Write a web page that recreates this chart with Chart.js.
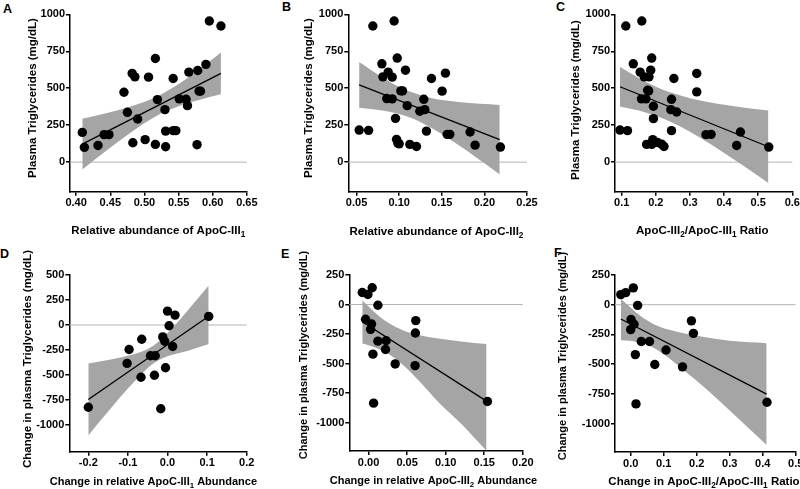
<!DOCTYPE html>
<html>
<head>
<meta charset="utf-8">
<script src="https://cdn.jsdelivr.net/npm/chart.js@4.4.0/dist/chart.umd.min.js"></script>
<style>
html, body { margin: 0; padding: 0; background: #fff; width: 800px; height: 489px; overflow: hidden; position: relative; }
canvas { position: absolute; left: 0; top: 0; }
.lbl { position: absolute; font: bold 12.5px/12px "Liberation Sans", Arial, sans-serif; color: #000; }
</style>
</head>
<body>
<div class="lbl" style="left:3px;top:2.5px">A</div>
<div class="lbl" style="left:282px;top:1px">B</div>
<div class="lbl" style="left:556px;top:1px">C</div>
<div class="lbl" style="left:0px;top:247.5px">D</div>
<div class="lbl" style="left:281px;top:247.5px">E</div>
<div class="lbl" style="left:554px;top:246.5px">F</div>
<canvas id="cA" width="900" height="489"></canvas>
<canvas id="cB" width="900" height="489"></canvas>
<canvas id="cC" width="900" height="489"></canvas>
<canvas id="cD" width="900" height="489"></canvas>
<canvas id="cE" width="900" height="489"></canvas>
<canvas id="cF" width="900" height="489"></canvas>
<script>
// ---- Panel A: TG vs ApoC-III1 ----
const aX = [0.409, 0.412, 0.432, 0.441, 0.448, 0.470, 0.475, 0.482, 0.486, 0.483, 0.490, 0.501, 0.506, 0.516, 0.516, 0.519, 0.530, 0.531, 0.531, 0.542, 0.542, 0.546, 0.551, 0.561, 0.563, 0.565, 0.578, 0.580, 0.582, 0.577, 0.590, 0.595, 0.612];
const aY = [201, 100, 113, 186, 186, 473, 337, 600, 577, 131, 292, 152, 575, 701, 120, 423, 355, 210, 104, 566, 213, 213, 428, 425, 382, 609, 620, 480, 480, 118, 661, 955, 921];
const aFitX = [0.409, 0.612];
const aFitY = [122, 600];
const aBandX = [0.409, 0.445, 0.475, 0.52, 0.555, 0.585, 0.612];
const aBandUp = [293, 333, 370, 448, 544, 645, 741];
const aBandLo = [-49, 81, 184, 318, 386, 427, 459];
const aTicksX = [0.40, 0.45, 0.50, 0.55, 0.60, 0.65];
const topTicksY = [0, 250, 500, 750, 1000];

// ---- Panel B: TG vs ApoC-III2 ----
const bX = [0.0531, 0.0641, 0.0691, 0.0797, 0.0809, 0.0871, 0.0918, 0.0941, 0.0855, 0.0918, 0.0957, 0.0977, 0.0969, 0.0984, 0.1000, 0.1020, 0.1039, 0.1074, 0.1094, 0.1125, 0.1203, 0.1242, 0.1289, 0.1301, 0.1320, 0.1379, 0.1504, 0.1543, 0.1563, 0.1594, 0.1832, 0.1891, 0.2188];
const bY = [217, 215, 921, 665, 577, 609, 575, 955, 430, 428, 296, 704, 154, 129, 124, 482, 482, 622, 382, 120, 106, 344, 425, 355, 210, 566, 480, 602, 188, 188, 204, 115, 102];
const bFitX = [0.053, 0.218];
const bFitY = [523, 152];
const bBandX = [0.053, 0.08, 0.1, 0.115, 0.14, 0.17, 0.195, 0.218];
const bBandUp = [678, 575, 509, 472, 430, 406, 395, 387];
const bBandLo = [368, 349, 325, 296, 224, 114, 13, -83];
const bTicksX = [0.05, 0.10, 0.15, 0.20, 0.25];

// ---- Panel C: TG vs ratio ----
const cX = [0.095, 0.117, 0.112, 0.134, 0.154, 0.159, 0.158, 0.166, 0.171, 0.176, 0.180, 0.173, 0.179, 0.185, 0.188, 0.193, 0.191, 0.193, 0.188, 0.205, 0.217, 0.224, 0.246, 0.244, 0.246, 0.253, 0.261, 0.320, 0.320, 0.347, 0.362, 0.437, 0.448, 0.531];
const cY = [217, 213, 921, 665, 609, 955, 428, 577, 428, 486, 577, 120, 482, 622, 704, 378, 152, 294, 120, 133, 122, 106, 425, 355, 213, 566, 339, 600, 475, 186, 188, 113, 204, 102];
const cFitX = [0.095, 0.53];
const cFitY = [510, 104];
const cBandX = [0.095, 0.15, 0.2, 0.235, 0.3, 0.38, 0.45, 0.53];
const cBandUp = [643, 569, 510, 477, 432, 395, 372, 349];
const cBandLo = [377, 349, 314, 281, 206, 93, -14, -141];
const cTicksX = [0.1, 0.2, 0.3, 0.4, 0.5, 0.6];

// ---- Panel D: change TG vs change ApoC-III1 ----
const dX = [-0.200, -0.097, -0.102, -0.065, -0.067, -0.043, -0.031, -0.033, -0.017, -0.012, -0.007, -0.005, 0.000, 0.004, 0.013, 0.019, 0.104];
const dY = [-822, -245, -384, -142, -523, -308, -308, -503, -838, -119, -162, -427, 139, -7, -215, 99, 86];
const dFitX = [-0.2, 0.104];
const dFitY = [-745, 88];
const dBandX = [-0.2, -0.15, -0.1, -0.05, -0.03, 0, 0.05, 0.104];
const dBandUp = [-386, -350, -307, -239, -189, -81, 140, 395];
const dBandLo = [-1104, -866, -635, -429, -369, -313, -260, -190];
const dTicksX = [-0.2, -0.1, 0.0, 0.1, 0.2];
const dTicksY = [-1000, -750, -500, -250, 0, 250, 500];

// ---- Panel E: change TG vs change ApoC-III2 ----
const eX = [-0.0082, -0.0009, 0.0047, 0.0121, -0.0039, 0.0039, 0.0026, 0.0056, 0.0065, 0.0121, 0.0228, 0.0220, 0.0345, 0.0612, 0.0607, 0.0603, 0.1542];
const eY = [102, 85, 142, -6, -125, -165, -210, -420, -835, -310, -307, -381, -503, -136, -241, -517, -821];
const eFitX = [-0.0082, 0.153];
const eFitY = [-146, -818];
const eBandX = [-0.0082, 0, 0.01, 0.0265, 0.045, 0.065, 0.09, 0.12, 0.153];
const eBandUp = [37, -16, -77, -159, -219, -258, -287, -312, -335];
const eBandLo = [-329, -344, -367, -421, -515, -644, -823, -1010, -1240];
const eTicksX = [0.00, 0.05, 0.10, 0.15, 0.20];
const efTicksY = [-1000, -750, -500, -250, 0, 250];

// ---- Panel F: change TG vs change ratio ----
const fX = [-0.030, -0.015, 0.008, 0.021, 0.001, 0.010, 0.000, 0.014, 0.016, 0.032, 0.057, 0.073, 0.107, 0.157, 0.184, 0.190, 0.413];
const fY = [85, 102, 142, -6, -125, -165, -210, -420, -835, -310, -310, -503, -381, -523, -136, -241, -821];
const fFitX = [-0.030, 0.412];
const fFitY = [-120, -753];
const fBandX = [-0.030, -0.002, 0.028, 0.073, 0.19, 0.30, 0.412];
const fBandUp = [51, -20, -91, -168, -256, -304, -324];
const fBandLo = [-300, -304, -319, -368, -618, -890, -1182];
const fTicksX = [0.0, 0.1, 0.2, 0.3, 0.4, 0.5];

const FONT = '"Liberation Sans", Arial, sans-serif';
const PAGE_W = 900, PAGE_H = 489;
const Y_BOX = 40, X_BOX = 30;

function toPts(xs, ys) {
    return xs.map((x, i) => ({ x: x, y: ys[i] }));
}

// thin grey line at y = 0
const zeroLine = {
    id: 'zeroLine',
    beforeDatasetsDraw(chart) {
        const { ctx, chartArea, scales } = chart;
        const py = scales.y.getPixelForValue(0);
        ctx.save();
        ctx.strokeStyle = '#b4b4b4';
        ctx.lineWidth = 1;
        ctx.beginPath();
        ctx.moveTo(chartArea.left, py);
        ctx.lineTo(chartArea.right, py);
        ctx.stroke();
        ctx.restore();
    }
};

// axis titles with real subscripts ("_1" -> small lowered 1), no width squeezing
function drawRich(ctx, text, size, cx, cy, rotate) {
    const parts = text.split(/_(\d)/);
    const big = 'bold ' + size + 'px ' + FONT;
    const small = 'bold ' + (size * 0.72) + 'px ' + FONT;
    ctx.save();
    ctx.translate(cx, cy);
    if (rotate) ctx.rotate(-Math.PI / 2);
    let total = 0;
    parts.forEach((t, i) => { ctx.font = i % 2 ? small : big; total += ctx.measureText(t).width; });
    let x = -total / 2;
    const base = size * 0.36;
    ctx.fillStyle = '#000';
    ctx.textAlign = 'left';
    ctx.textBaseline = 'alphabetic';
    parts.forEach((t, i) => {
        ctx.font = i % 2 ? small : big;
        ctx.fillText(t, x, i % 2 ? base + size * 0.26 : base);
        x += ctx.measureText(t).width;
    });
    ctx.restore();
}

const axisTitles = {
    id: 'axisTitles',
    afterDraw(chart, args, opts) {
        drawRich(chart.ctx, opts.xText, opts.xSize, opts.xCx, opts.xCy, false);
        drawRich(chart.ctx, opts.yText, opts.ySize, opts.yCx, opts.yCy, true);
    }
};

function axis(min, max, ticks, dec, fitFn) {
    return {
        type: 'linear',
        min: min,
        max: max,
        afterBuildTicks: s => { s.ticks = ticks.map(v => ({ value: v })); },
        afterFit: fitFn,
        ticks: {
            callback: v => dec === null ? String(v) : v.toFixed(dec),
            font: { family: FONT, size: 11, weight: 'bold' },
            color: '#000',
            padding: 1,
            maxRotation: 0,
            autoSkip: false
        },
        grid: { display: true, drawOnChartArea: false, drawTicks: true, tickLength: 4, color: '#000', lineWidth: 1.5 },
        border: { display: true, color: '#000', width: 1.5 },
        title: { display: false }
    };
}

function panel(id, p) {
    new Chart(document.getElementById(id), {
        type: 'scatter',
        data: {
            datasets: [
                { data: toPts(p.x, p.y), backgroundColor: '#000', borderColor: '#000', borderWidth: 0, pointRadius: 4.7, pointHoverRadius: 4.7 },
                { type: 'line', data: toPts(p.fitX, p.fitY), borderColor: '#000', borderWidth: 1.3, pointRadius: 0, fill: false },
                { type: 'line', data: toPts(p.bandX, p.bandUp), borderWidth: 0, borderColor: 'rgba(0,0,0,0)', pointRadius: 0, fill: '+1', backgroundColor: '#a5a5a5', cubicInterpolationMode: 'monotone' },
                { type: 'line', data: toPts(p.bandX, p.bandLo), borderWidth: 0, borderColor: 'rgba(0,0,0,0)', pointRadius: 0, fill: false, cubicInterpolationMode: 'monotone' }
            ]
        },
        options: {
            responsive: false,
            animation: false,
            devicePixelRatio: 1,
            events: [],
            layout: { padding: { left: p.left - Y_BOX, right: PAGE_W - p.right, top: p.top, bottom: PAGE_H - p.bottom - X_BOX } },
            plugins: {
                legend: { display: false },
                tooltip: { enabled: false },
                axisTitles: {
                    xText: p.xTitle, xSize: p.xSize, xCx: p.xTitleX, xCy: p.xTitleY,
                    yText: p.yTitle, ySize: p.ySize, yCx: p.yTitleX, yCy: p.yTitleY
                }
            },
            scales: {
                x: axis(p.xMin, p.xMax, p.ticksX, p.xDec, s => { s.height = X_BOX; }),
                y: axis(p.yMin, p.yMax, p.ticksY, null, s => { s.width = Y_BOX; })
            }
        },
        plugins: [zeroLine, axisTitles]
    });
}

const topTitle = 'Plasma Triglycerides (mg/dL)';
const botTitle = 'Change in plasma Triglycerides (mg/dL)';

panel('cA', { x: aX, y: aY, fitX: aFitX, fitY: aFitY, bandX: aBandX, bandUp: aBandUp, bandLo: aBandLo,
    ticksX: aTicksX, ticksY: topTicksY, xDec: 2, xMin: 0.391, xMax: 0.65, yMin: -200, yMax: 1000,
    left: 70, right: 246.9, top: 14.3, bottom: 191.7,
    yTitleX: 31.7, yTitleY: 98, xTitleX: 158.3, xTitleY: 230, xSize: 11.5, ySize: 11.5,
    xTitle: 'Relative abundance of ApoC-III_1', yTitle: topTitle });

panel('cB', { x: bX, y: bY, fitX: bFitX, fitY: bFitY, bandX: bBandX, bandUp: bBandUp, bandLo: bBandLo,
    ticksX: bTicksX, ticksY: topTicksY, xDec: 2, xMin: 0.0403, xMax: 0.25, yMin: -200, yMax: 1000,
    left: 348.3, right: 527, top: 14.3, bottom: 191.7,
    yTitleX: 307.7, yTitleY: 98, xTitleX: 436.5, xTitleY: 231, xSize: 11.5, ySize: 11.5,
    xTitle: 'Relative abundance of ApoC-III_2', yTitle: topTitle });

panel('cC', { x: cX, y: cY, fitX: cFitX, fitY: cFitY, bandX: cBandX, bandUp: cBandUp, bandLo: cBandLo,
    ticksX: cTicksX, ticksY: topTicksY, xDec: 1, xMin: 0.0804, xMax: 0.6, yMin: -200, yMax: 1000,
    left: 615, right: 792.3, top: 14.3, bottom: 191.7,
    yTitleX: 575.3, yTitleY: 100, xTitleX: 702.3, xTitleY: 230, xSize: 11.5, ySize: 11.5,
    xTitle: 'ApoC-III_2/ApoC-III_1 Ratio', yTitle: topTitle });

panel('cD', { x: dX, y: dY, fitX: dFitX, fitY: dFitY, bandX: dBandX, bandUp: dBandUp, bandLo: dBandLo,
    ticksX: dTicksX, ticksY: dTicksY, xDec: 1, xMin: -0.248, xMax: 0.2, yMin: -1267, yMax: 500,
    left: 69.3, right: 246.7, top: 275, bottom: 451.7,
    yTitleX: 26.7, yTitleY: 359, xTitleX: 153.4, xTitleY: 481.5, xSize: 11, ySize: 11.5,
    xTitle: 'Change in relative ApoC-III_1 Abundance', yTitle: botTitle });

panel('cE', { x: eX, y: eY, fitX: eFitX, fitY: eFitY, bandX: eBandX, bandUp: eBandUp, bandLo: eBandLo,
    ticksX: eTicksX, ticksY: efTicksY, xDec: 2, xMin: -0.025, xMax: 0.2, yMin: -1240, yMax: 250,
    left: 349.3, right: 522.8, top: 275, bottom: 451,
    yTitleX: 302.7, yTitleY: 355, xTitleX: 433.5, xTitleY: 480.5, xSize: 11, ySize: 11,
    xTitle: 'Change in relative ApoC-III_2 Abundance', yTitle: botTitle });

panel('cF', { x: fX, y: fY, fitX: fFitX, fitY: fFitY, bandX: fBandX, bandUp: fBandUp, bandLo: fBandLo,
    ticksX: fTicksX, ticksY: efTicksY, xDec: 1, xMin: -0.0476, xMax: 0.5, yMin: -1240, yMax: 250,
    left: 615, right: 795.7, top: 275, bottom: 452,
    yTitleX: 562.3, yTitleY: 356, xTitleX: 704, xTitleY: 481, xSize: 11.5, ySize: 11,
    xTitle: 'Change in ApoC-III_2/ApoC-III_1 Ratio', yTitle: botTitle });
</script>
</body>
</html>
